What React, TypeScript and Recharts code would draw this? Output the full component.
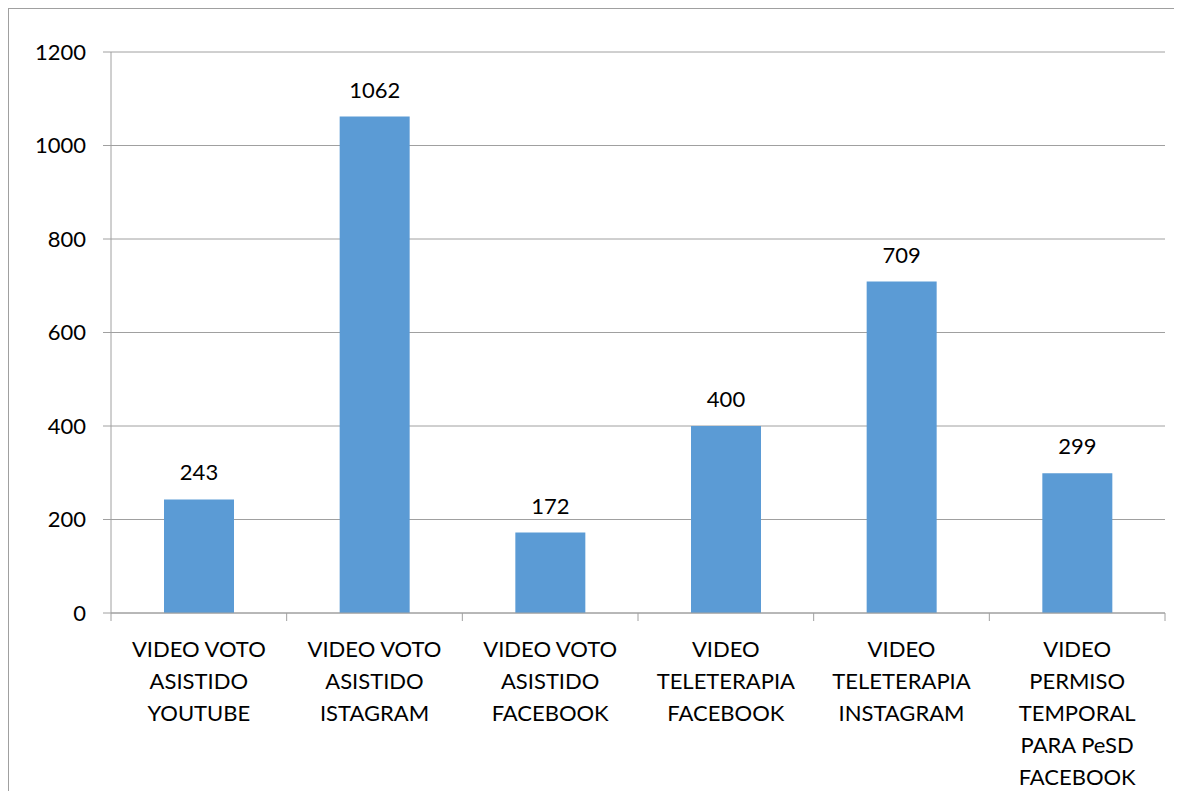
import React from 'react';
import { BarChart, Bar, XAxis, YAxis, CartesianGrid, LabelList } from 'recharts';

const categories = [
  'VIDEO VOTO\nASISTIDO\nYOUTUBE',
  'VIDEO VOTO\nASISTIDO\nISTAGRAM',
  'VIDEO VOTO\nASISTIDO\nFACEBOOK',
  'VIDEO\nTELETERAPIA\nFACEBOOK',
  'VIDEO\nTELETERAPIA\nINSTAGRAM',
  'VIDEO\nPERMISO\nTEMPORAL\nPARA PeSD\nFACEBOOK',
];
const values = [243, 1062, 172, 400, 709, 299];
const yTicks = [0, 200, 400, 600, 800, 1000, 1200];

const data = categories.map((c, i) => ({ name: c, value: values[i] }));

const FONT = 'Lato, "Open Sans", sans-serif';
const GRAY = '#a0a0a0';

const CatTick = (props: any) => {
  const { x, y, payload, index, visibleTicksCount } = props;
  const half = payload && payload.offset ? payload.offset : 0;
  const lines = String(payload.value).split('\n');
  const axisY = y;
  const isLast = index === (visibleTicksCount ?? categories.length) - 1;
  return (
    <g>
      <line x1={x - half} x2={x - half} y1={axisY} y2={axisY + 8} stroke={GRAY} />
      {isLast && <line x1={x + half} x2={x + half} y1={axisY} y2={axisY + 8} stroke={GRAY} />}
      {lines.map((ln: string, i: number) => (
        <text
          key={i}
          x={x}
          y={axisY + 35 + i * 32}
          textAnchor="middle"
          dominantBaseline="central"
          fontFamily={FONT}
          fontSize={22}
          fill="#000"
        >
          {ln}
        </text>
      ))}
    </g>
  );
};

export default function App() {
  return (
    <div
      style={{
        width: 1173,
        height: 782,
        borderTop: `1px solid ${GRAY}`,
        borderLeft: `1px solid ${GRAY}`,
        background: '#fff',
        overflow: 'hidden',
      }}
    >
      <style>{'html,body{overflow:hidden}'}</style>
      <BarChart
        width={1173}
        height={782}
        data={data}
        margin={{ top: 43, right: 17, left: 0, bottom: 0 }}
      >
        <CartesianGrid horizontal vertical={false} stroke={GRAY} strokeWidth={1} />
        <XAxis
          dataKey="name"
          type="category"
          height={178}
          axisLine={{ stroke: GRAY }}
          tickLine={false}
          tickSize={0}
          tickMargin={0}
          interval={0}
          tick={<CatTick />}
        />
        <YAxis
          width={102}
          domain={[0, 1200]}
          ticks={yTicks}
          tickSize={8}
          tickMargin={17}
          axisLine={{ stroke: GRAY }}
          tickLine={{ stroke: GRAY }}
          tick={{ fontFamily: FONT, fontSize: 22, fill: '#000' }}
          interval={0}
        />
        <Bar dataKey="value" fill="#5B9BD5" barSize={70} isAnimationActive={false}>
          <LabelList
            dataKey="value"
            position="top"
            offset={19}
            style={{ fontFamily: FONT, fontSize: 22, fill: '#000' }}
          />
        </Bar>
      </BarChart>
    </div>
  );
}
